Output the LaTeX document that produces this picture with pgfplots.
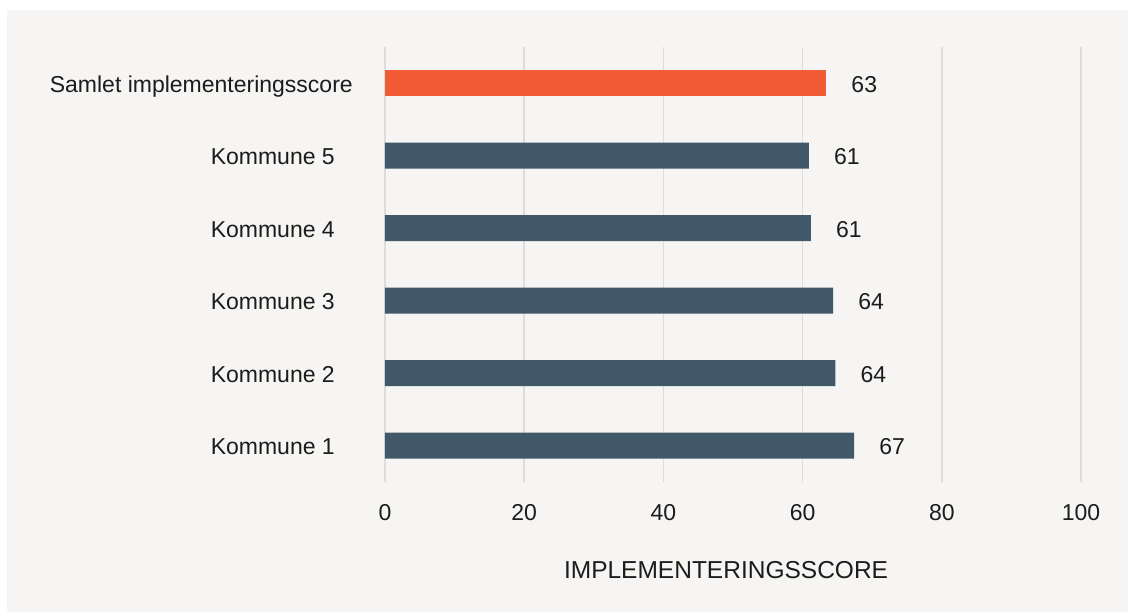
\documentclass[border=0pt]{standalone}
\usepackage{fontspec}
\setmainfont{Liberation Sans}
\usepackage{pgfplots}
\pgfplotsset{compat=1.18}
\definecolor{bgpanel}{RGB}{246,245,243}
\definecolor{slate}{RGB}{65,88,104}
\definecolor{orangebar}{RGB}{241,91,53}
\definecolor{gridgray}{RGB}{221,221,221}
\definecolor{txt}{RGB}{28,28,28}
\newcommand{\pad}{\rule{18pt}{0pt}}
\begin{document}
\begin{tikzpicture}[x=1pt,y=1pt]
\fill[white] (0,0) rectangle (1128,612);
\fill[bgpanel] (7,0) rectangle (1128,602);
\begin{axis}[
  at={(385pt,130pt)}, anchor=south west,
  scale only axis, width=696pt, height=435pt,
  xmin=0, xmax=100, ymin=-0.5, ymax=5.5,
  axis line style={draw=none},
  tick style={draw=none},
  xmajorgrids, grid style={gridgray, line width=1.6pt},
  xtick={0,20,40,60,80,100},
  ytick={0,1,2,3,4,5},
  yticklabels={Kommune 1\pad,Kommune 2\pad,Kommune 3\pad,Kommune 4\pad,Kommune 5\pad,Samlet implementeringsscore},
  ticklabel style={font=\fontsize{23}{27}\selectfont, text=txt, inner sep=0pt},
  /pgf/number format/assume math mode=true,
  xticklabel style={anchor=base, yshift=-38.5pt},
  yticklabel style={anchor=base east, xshift=-32pt, yshift=-9pt},
  xlabel={IMPLEMENTERINGSSCORE},
  xlabel style={at={(axis description cs:0.49,0)}, anchor=base, yshift=-97pt, font=\fontsize{24.5}{28}\selectfont, text=txt, inner sep=0pt},
  nodes near coords,
  point meta=explicit symbolic,
  every node near coord/.style={anchor=base west, xshift=25pt, yshift=-9pt, inner sep=0pt, font=\fontsize{23}{27}\selectfont, text=txt},
]
\addplot[xbar, bar width=26pt, bar shift=0pt, fill=slate, draw=none]
  coordinates {(67.4,0)[67] (64.7,1)[64] (64.4,2)[64] (61.2,3)[61] (60.9,4)[61]};
\addplot[xbar, bar width=26pt, bar shift=0pt, fill=orangebar, draw=none]
  coordinates {(63.4,5)[63]};
\end{axis}
\end{tikzpicture}
\end{document}
